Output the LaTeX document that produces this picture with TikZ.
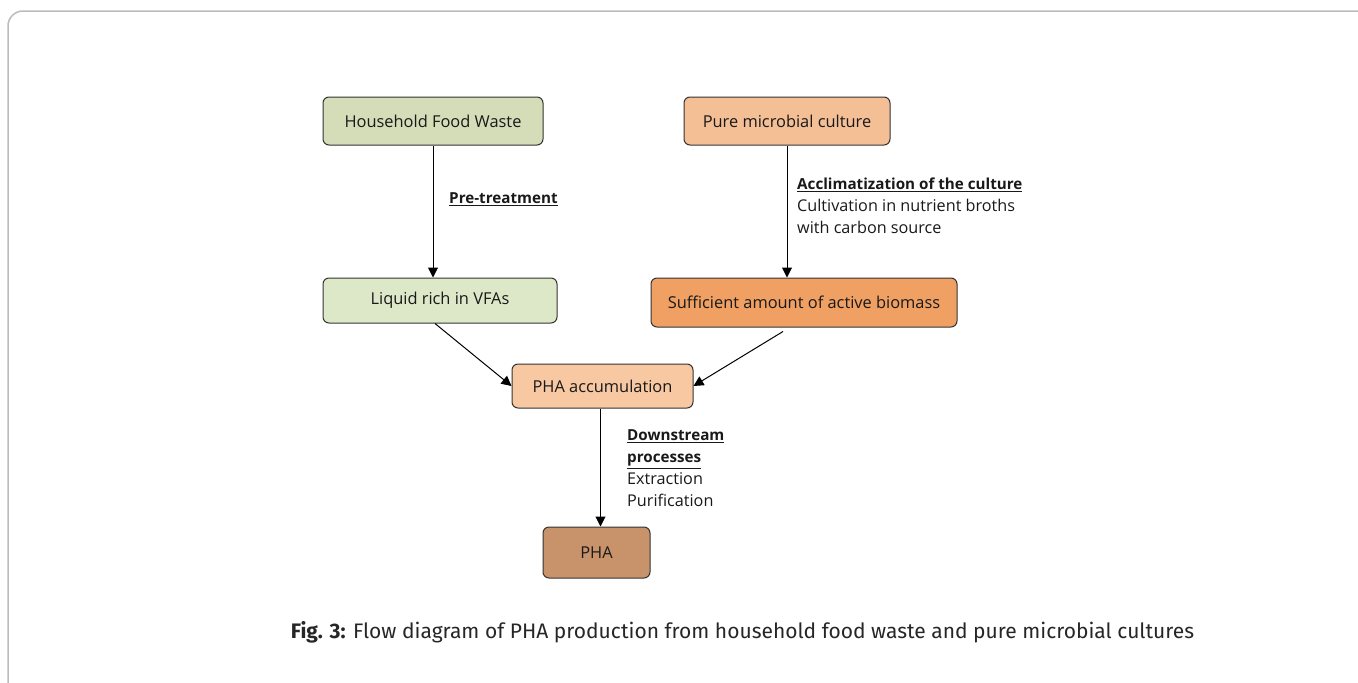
\documentclass[tikz,border=0pt]{standalone}
\usepackage{fontspec}
\setmainfont{Open Sans}
\newfontfamily\capfont{Fira Sans}
\usetikzlibrary{arrows.meta,calc}
\definecolor{frameg}{HTML}{BBBBBB}
\definecolor{hfwc}{HTML}{D5DCB8}
\definecolor{liqc}{HTML}{DDE8C8}
\definecolor{pmcc}{HTML}{F5BF96}
\definecolor{sufc}{HTML}{F0A062}
\definecolor{accc}{HTML}{F7C8A2}
\definecolor{phac}{HTML}{C8936B}
\definecolor{boxline}{HTML}{333333}
\newcommand{\hd}[1]{{\fontsize{15.2}{22}\selectfont\textbf{\underline{#1}}}}
\tikzset{
  flowbox/.style={draw=boxline, line width=1pt, rounded corners=6pt, inner sep=0pt,
    font=\fontsize{16.4}{19}\selectfont, text=black!90},
  arr/.style={draw=black, line width=1pt, -{Triangle[width=10pt,length=10pt]}},
  lbl/.style={anchor=west, align=left, inner sep=0pt, font=\fontsize{16.2}{22}\selectfont, text=black!90},
}
\begin{document}
\begin{tikzpicture}[x=1pt,y=-1pt]
\useasboundingbox (0,0) rectangle (1358,683);
\draw[frameg, line width=1.5pt, rounded corners=15pt] (8,11) rectangle (1375,700);

\node[flowbox, fill=hfwc, minimum width=220pt, minimum height=48pt] (hfw) at (433,121) {Household Food Waste};
\node[flowbox, fill=pmcc, minimum width=206pt, minimum height=48pt] (pmc) at (787,121) {Pure microbial culture};
\node[flowbox, fill=liqc, minimum width=234pt, minimum height=45pt] (liq) at (440,300.5) {Liquid rich in VFAs};
\node[flowbox, fill=sufc, minimum width=306pt, minimum height=49pt] (suf) at (804,302.5) {Sufficient amount of active biomass};
\node[flowbox, fill=accc, minimum width=181pt, minimum height=44pt] (acc) at (602.5,386) {PHA accumulation};
\node[flowbox, fill=phac, minimum width=107pt, minimum height=51pt] (pha) at (596.5,552.5) {PHA};

\draw[arr] (hfw.south) -- (hfw.south |- liq.north);
\draw[arr] (pmc.south) -- (pmc.south |- suf.north);
\draw[arr] ([xshift=-5pt]liq.south) -- (acc.west);
\draw[arr] ([xshift=-21pt,yshift=-4pt]suf.south) -- (acc.east);
\draw[arr] ([xshift=-2pt]acc.south) -- ([xshift=-2pt]acc.south |- pha.north);

\node[lbl] (l1) at (449,199) {\hd{Pre-treatment}};
\node[lbl] (l2) at (797,206) {\hd{Acclimatization of the culture}\\Cultivation in nutrient broths\\with carbon source};
\node[lbl] (l3) at (627,468.5) {\hd{Downstream}\\\hd{processes}\\Extraction\\Purification};

\node[font=\capfont\fontsize{21}{24}\selectfont, text=black!85, inner sep=0pt] (cap) at (742.5,632) {\textbf{Fig. 3:} Flow diagram of PHA production from household food waste and pure microbial cultures};
\end{tikzpicture}
\end{document}
